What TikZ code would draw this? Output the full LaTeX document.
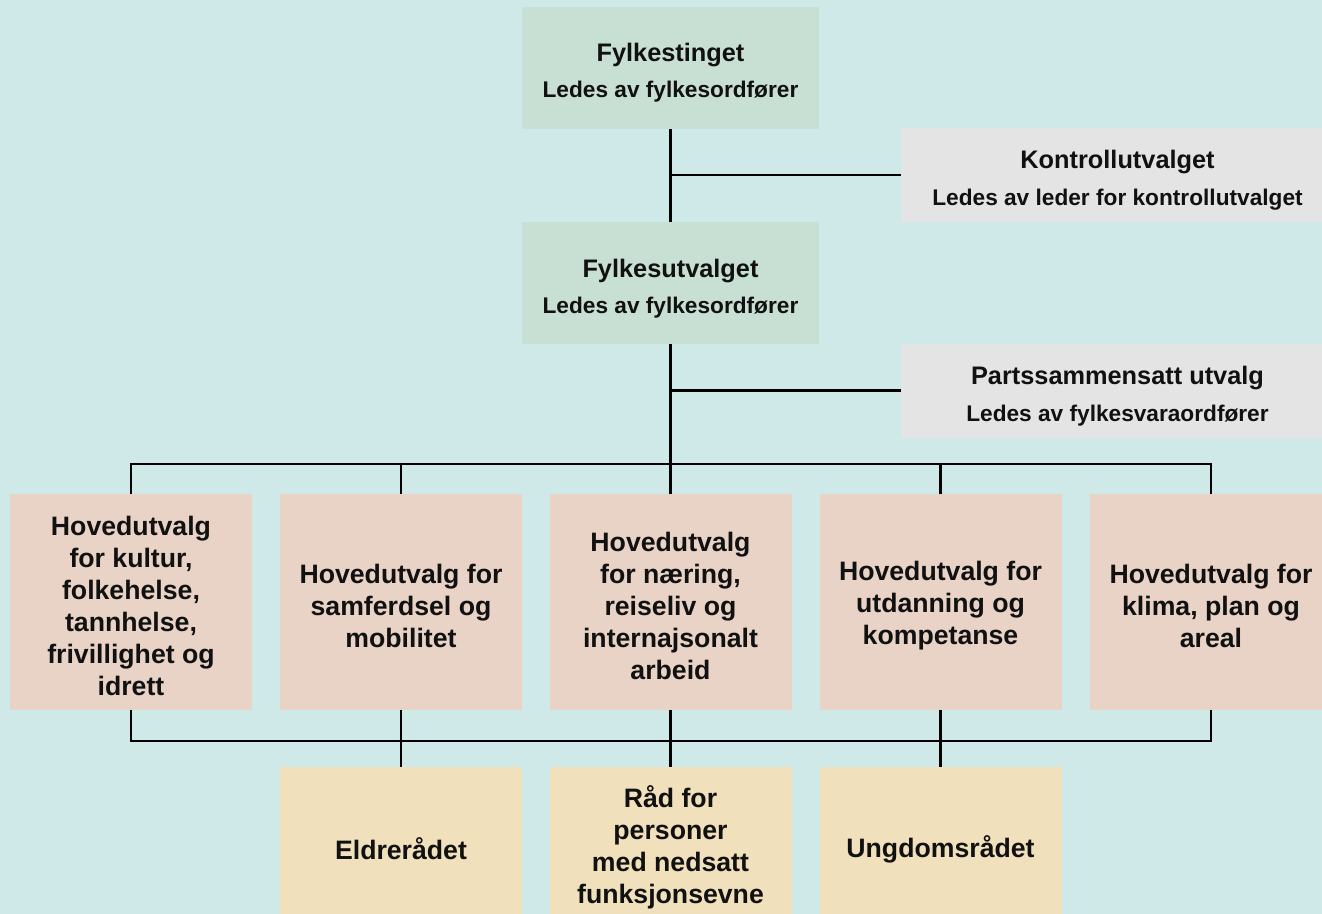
\documentclass[tikz,border=0pt]{standalone}
\usepackage{fontspec}
\setmainfont{Liberation Sans}
\definecolor{bgc}{HTML}{CFE9E8}
\definecolor{grn}{HTML}{C8DFD3}
\definecolor{gry}{HTML}{E4E4E4}
\definecolor{pnk}{HTML}{E8D3C6}
\definecolor{ylw}{HTML}{F0E0BC}
\definecolor{ink}{HTML}{111111}
\newcommand{\ttl}{\fontsize{19}{23}\selectfont\bfseries}
\newcommand{\sub}{\fontsize{17}{23}\selectfont\bfseries}
\newcommand{\bx}{\fontsize{20}{24}\selectfont\bfseries}
\tikzset{
  box/.style={draw=none, inner sep=0pt},
  txt/.style={inner sep=0pt, align=center, text=ink},
  topbox/.style={box, fill=grn, minimum width=297*0.75pt, minimum height=122*0.75pt},
  sidebox/.style={box, fill=gry, minimum width=433*0.75pt, minimum height=94*0.75pt},
  hbox/.style={box, fill=pnk, minimum width=242*0.75pt, minimum height=216*0.75pt},
  rbox/.style={box, fill=ylw, minimum width=242*0.75pt, minimum height=162*0.75pt},
  htxt/.style={txt, font=\bx},
  conn/.style={draw=black, line width=1.6pt}
}
\begin{document}
\begin{tikzpicture}[x=0.75pt,y=-0.75pt]
\useasboundingbox (0,0) rectangle (1322,914);
\clip (0,0) rectangle (1322,914);
\fill[bgc] (0,0) rectangle (1322,914);

\node[topbox] (fting) at (670.5,67.5) {};
\node[txt] (fting-t) at (670.5,72.5) {\ttl Fylkestinget\\[10pt]\sub Ledes av fylkesordfører};
\node[topbox] (futv) at (670.5,283) {};
\node[txt] (futv-t) at (670.5,288.5) {\ttl Fylkesutvalget\\[10pt]\sub Ledes av fylkesordfører};
\node[sidebox] (kontroll) at (1117.5,175) {};
\node[txt] (kontroll-t) at (1117.5,180) {\ttl Kontrollutvalget\\[10pt]\sub Ledes av leder for kontrollutvalget};
\node[sidebox] (parts) at (1117.5,390.5) {};
\node[txt] (parts-t) at (1117.5,396) {\ttl Partssammensatt utvalg\\[10pt]\sub Ledes av fylkesvaraordfører};

\node[hbox] (h1) at (131,602) {};
\node[htxt] (h1-t) at (131,606) {Hovedutvalg\\for kultur,\\folkehelse,\\tannhelse,\\frivillighet og\\idrett};
\node[hbox] (h2) at (401,602) {};
\node[htxt] (h2-t) at (401,606) {Hovedutvalg for\\samferdsel og\\mobilitet};
\node[hbox] (h3) at (670.5,602) {};
\node[htxt] (h3-t) at (670.5,606) {Hovedutvalg\\for næring,\\reiseliv og\\internajsonalt\\arbeid};
\node[hbox] (h4) at (940.5,602) {};
\node[htxt] (h4-t) at (940.5,606) {Hovedutvalg for\\utdanning og\\kompetanse};
\node[hbox] (h5) at (1211,602) {};
\node[htxt] (h5-t) at (1211,606) {Hovedutvalg for\\klima, plan og\\areal};

\node[rbox] (r1) at (401,848) {};
\node[htxt] (r1-t) at (401,849) {Eldrerådet};
\node[rbox] (r2) at (670.5,848) {};
\node[htxt] (r2-t) at (670.5,847) {Råd for\\personer\\med nedsatt\\funksjonsevne};
\node[rbox] (r3) at (940.5,848) {};
\node[htxt] (r3-t) at (940.5,849) {Ungdomsrådet};

\coordinate (bus) at (670.5,464);
\coordinate (bbus) at (670.5,741);

\draw[conn] (fting.south) -- (futv.north);
\draw[conn] (fting.south |- kontroll.west) -- (kontroll.west);
\draw[conn] (futv.south) -- (bus);
\draw[conn] (futv.south |- parts.west) -- (parts.west);
\draw[conn] (h1.north) |- (bus) -| (h5.north);
\draw[conn] (h2.north) -- (h2.north |- bus);
\draw[conn] (h3.north) -- (bus);
\draw[conn] (h4.north) -- (h4.north |- bus);
\draw[conn] (h1.south) |- (bbus) -| (h5.south);
\draw[conn] (h2.south) -- (r1.north);
\draw[conn] (h3.south) -- (r2.north);
\draw[conn] (h4.south) -- (r3.north);
\end{tikzpicture}
\end{document}
